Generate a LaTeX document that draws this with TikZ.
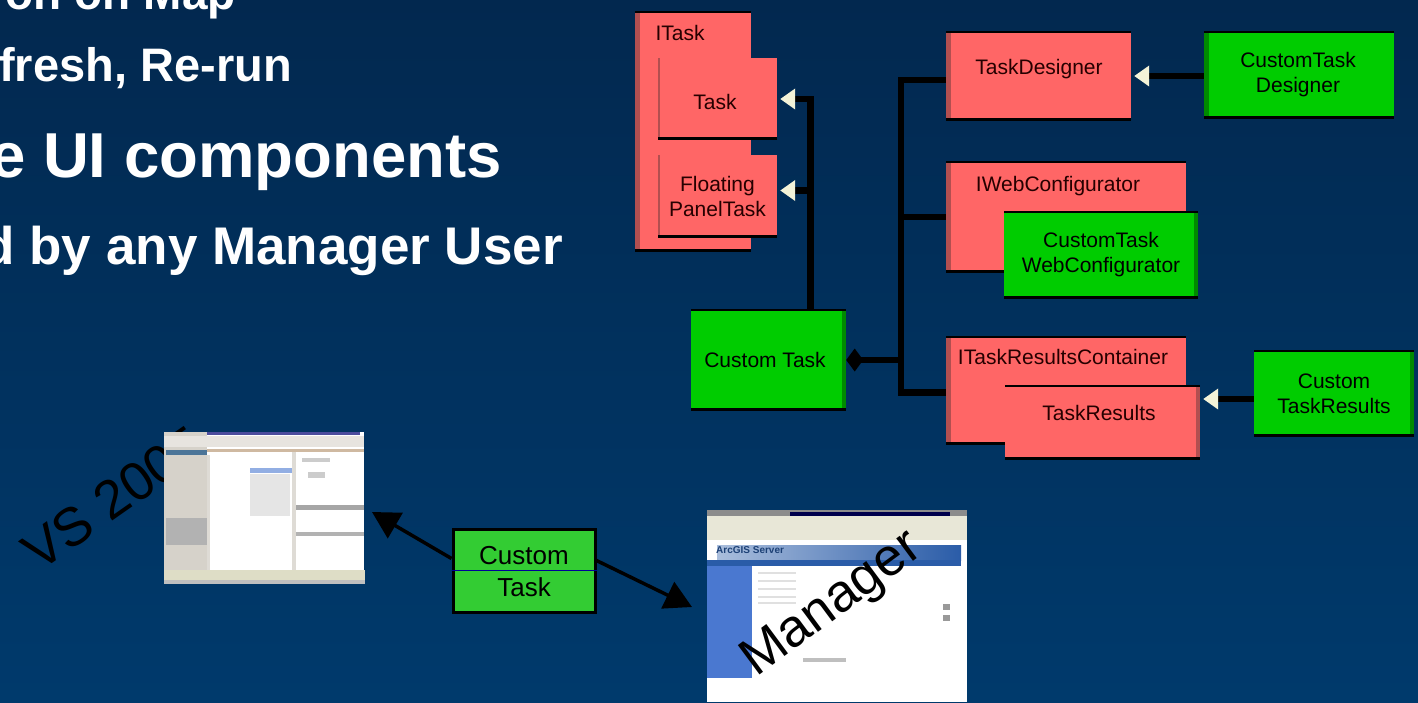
\documentclass[tikz,border=0pt]{standalone}
\usepackage{fontspec}
\setmainfont{Liberation Sans}
\usetikzlibrary{arrows.meta}
\definecolor{bgtop}{HTML}{02284F}
\definecolor{bgbottom}{HTML}{003A6C}
\definecolor{redfill}{HTML}{FF6666}
\definecolor{reddark}{HTML}{B24F50}
\definecolor{greenfill}{HTML}{00CC00}
\definecolor{greendark}{HTML}{008A00}
\definecolor{limefill}{HTML}{33CC33}
\definecolor{tipcream}{HTML}{F4F3D8}
\definecolor{panelgray}{HTML}{D6D2CA}
\definecolor{barbeige}{HTML}{DEDDC6}
\definecolor{navblue}{HTML}{4A78D0}
\definecolor{bannerblue}{HTML}{2A5CA8}
\begin{document}
\begin{tikzpicture}[x=1pt,y=-1pt]
\tikzset{boxbase/.style={inner sep=0pt, align=center, text=black!85!red, font=\fontsize{21}{25}\selectfont},
  size/.style 2 args={minimum width=#1pt, minimum height=#2pt},
  stripleft/.style={path picture={
    \fill[#1] (path picture bounding box.south west) rectangle ([xshift=5pt]path picture bounding box.north west);
    \fill[black] (path picture bounding box.south west) rectangle ([yshift=3pt]path picture bounding box.south east);
    \fill[black] (path picture bounding box.north west) rectangle ([yshift=-2pt]path picture bounding box.north east);}},
  stripright/.style={path picture={
    \fill[#1] (path picture bounding box.south east) rectangle ([xshift=-4pt]path picture bounding box.north east);
    \fill[black] (path picture bounding box.south west) rectangle ([yshift=3pt]path picture bounding box.south east);
    \fill[black] (path picture bounding box.north west) rectangle ([yshift=-2pt]path picture bounding box.north east);}},
  stripthin/.style={path picture={
    \fill[#1] ([xshift=0pt]path picture bounding box.south west) rectangle ([xshift=2pt]path picture bounding box.north west);
    \fill[black] (path picture bounding box.south west) rectangle ([yshift=3pt]path picture bounding box.south east);}},
  redbox/.style={boxbase, fill=redfill},
  greenbox/.style={boxbase, fill=greenfill, text=black},
  tasktext/.style={boxbase},
  headline/.style={anchor=base east, inner sep=0pt, text=white, font=\bfseries\fontsize{#1}{#1}\selectfont},
  slanted/.style 2 args={anchor=base west, text=black, inner sep=0pt, rotate=#2, font=\fontsize{#1}{#1}\selectfont},
  link/.style={line width=6.5pt, black},
  socket/.style={link, -{Triangle[fill=tipcream, color=tipcream, length=15pt, width=20pt]}, shorten >=3pt},
  bigarrow/.style={line width=3.5pt, black, -{Triangle[length=27pt, width=29pt]}}}

\shade[top color=bgtop, bottom color=bgbottom] (0,0) rectangle (1418,702);
\useasboundingbox (0,0) rectangle (1418,702);

\node[headline=46] (line1) at (236,9) {on on Map};
\node[headline=47] (line2) at (292,81) {fresh, Re-run};
\node[headline=63.5] (line3) at (502,177) {e UI components};
\node[headline=53] (line4) at (563,264) {d by any Manager User};

\node[redbox, size={116}{241}, stripleft=reddark] (ITask) at (693,131.5) {};
\node[tasktext] (ITaskLabel) at (680,33) {ITask};
\node[redbox, size={119}{82}, stripthin=reddark] (Task) at (717.5,99) {};
\node[tasktext] (TaskLabel) at (715,102) {Task};
\node[redbox, size={119}{83}, stripthin=reddark] (Floating) at (717.5,196.5) {Floating\\PanelTask};
\node[greenbox, size={155}{102}, stripright=greendark] (CustomTask) at (768.5,360) {};
\node[tasktext, text=black] (CustomTaskLabel) at (765,360) {Custom Task};
\node[redbox, size={185}{90}, stripleft=reddark] (Designer) at (1038.5,76) {};
\node[tasktext] (DesignerLabel) at (1039,69) {TaskDesigner};
\node[greenbox, size={190}{88}, stripleft=greendark] (CustomDesigner) at (1299,75) {};
\node[tasktext, text=black] (CustomDesignerLabel) at (1298,75) {CustomTask\\Designer};
\node[redbox, size={240}{112}, stripleft=reddark] (IWeb) at (1066,217) {};
\node[tasktext] (IWebLabel) at (1058,186) {IWebConfigurator};
\node[greenbox, size={194}{88}, stripright=greendark] (CustomWeb) at (1101,255) {CustomTask\\WebConfigurator};
\node[redbox, size={240}{109}, stripleft=reddark] (IResults) at (1066,390.5) {};
\node[tasktext] (IResultsLabel) at (1063,357) {ITaskResultsContainer};
\node[redbox, size={195}{75}, stripright=reddark] (Results) at (1102.5,422.5) {};
\node[tasktext] (ResultsLabel) at (1099,413) {TaskResults};
\node[greenbox, size={160}{87}, stripright=greendark] (CustomResults) at (1334,393.5) {Custom\\TaskResults};

\coordinate (Bus) at (901,360);
\draw[socket] ([xshift=42pt]CustomTask.north) |- (Task.east);
\draw[socket] ([xshift=42pt,yshift=30pt]CustomTask.north) |- ([yshift=6pt]Floating.east);
\draw[link, {Diamond[length=17pt, width=23pt]}-] (CustomTask.east) -- (Bus);
\draw[link] ([yshift=-4pt]Designer.west) -| (Bus);
\draw[link] (IWeb.west) -| (Bus);
\draw[link] ([yshift=-2pt]IResults.west) -| (Bus);
\draw[socket] (CustomDesigner.west |- Designer.east) -- (Designer.east);
\draw[socket] ([yshift=-5.5pt]CustomResults.west) -- ([yshift=23.5pt]Results.east);

% VS screenshot
\node[slanted={54}{35}] (VSLabel) at (39,573) {VS 2005};
\fill[white] (164,432) rectangle (364,584);
\fill[panelgray] (164,432) rectangle (207,584);
\fill[black!55!blue!70!white] (207,432) rectangle (360,435);
\fill[panelgray!60] (164,436) rectangle (364,447);
\fill[panelgray!70!brown] (207,449) rectangle (364,452);
\fill[bgbottom!70!white] (166,450) rectangle (207,455);
\fill[panelgray!80!white] (207,455) rectangle (210,580);
\fill[panelgray!80!white] (292,452) rectangle (296,570);
\fill[black!35] (296,505) rectangle (364,510);
\fill[black!30] (296,532) rectangle (364,536);
\fill[navblue!60!white] (250,468) rectangle (292,473);
\fill[black!10] (250,474) rectangle (290,516);
\fill[black!30] (166,518) rectangle (207,545);
\fill[black!20] (302,458) rectangle (330,462);
\fill[black!20] (308,472) rectangle (325,478);
\fill[barbeige] (164,570) rectangle (365,580);
\fill[black!25] (164,580) rectangle (365,584);

% Manager screenshot
\fill[white] (707,510) rectangle (967,702);
\fill[black!45] (707,510) rectangle (967,516);
\fill[black!70!blue] (790,512) rectangle (950,516);
\fill[barbeige!70!white] (707,516) rectangle (967,540);
\shade[left color=bannerblue!40!white, right color=bannerblue] (717,545) rectangle (961,560);
\fill[bannerblue] (707,560) rectangle (961,566);
\fill[navblue] (707,566) rectangle (752,678);
\node[anchor=west, inner sep=0pt, text=bannerblue!70!black, font=\bfseries\fontsize{10}{10}\selectfont] (Banner) at (716,550) {ArcGIS Server};
\foreach \y in {572,580,588,596,602} \fill[black!12] (758,\y) rectangle (796,\y+2);
\fill[black!40] (943,604) rectangle (950,610);
\fill[black!40] (943,615) rectangle (950,621);
\fill[black!25] (803,658) rectangle (846,662);
\node[slanted={53}{36.5}] (ManagerLabel) at (756,678) {Manager};

% custom task box
\node[boxbase, draw=black, line width=3pt, fill=limefill, size={142}{83}] (Package) at (524,570.5) {};
\draw[blue!60!black, line width=0.8pt] (Package.west) -- (Package.east);
\node[boxbase, text=black, font=\fontsize{26}{32}\selectfont] (PackageLabel) at (524,572) {Custom\\Task};
\coordinate (VSEnd) at (372,512);
\coordinate (ManagerEnd) at (692,607);
\draw[bigarrow] ([yshift=12pt]Package.west) -- (VSEnd);
\draw[bigarrow] ([yshift=10pt]Package.east) -- (ManagerEnd);
\end{tikzpicture}
\end{document}
